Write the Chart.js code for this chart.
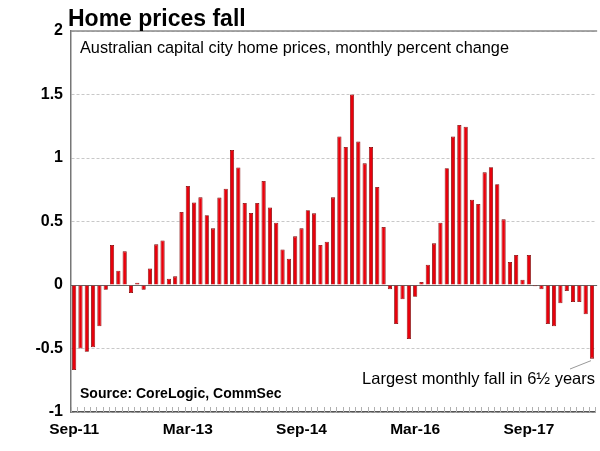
<!DOCTYPE html>
<html>
<head>
<meta charset="utf-8">
<script src="https://cdn.jsdelivr.net/npm/chart.js@4.4.0/dist/chart.umd.min.js"></script>
<style>
  html, body { margin: 0; padding: 0; background: #fff; }
  #wrap { width: 600px; height: 451px; }
</style>
</head>
<body>
<div id="wrap"><canvas id="homeChart"></canvas></div>
<script>
// monthly percent change, Sep-11 onwards
const monthNames = ['Jan', 'Feb', 'Mar', 'Apr', 'May', 'Jun', 'Jul', 'Aug', 'Sep', 'Oct', 'Nov', 'Dec'];
const changes = [
    -0.67, -0.50, -0.525, -0.49, -0.325, -0.037, 0.315, 0.113, 0.265, -0.063,
    0.018, -0.037, 0.13, 0.32, 0.35, 0.05, 0.068, 0.575, 0.78, 0.65,
    0.69, 0.55, 0.446, 0.688, 0.758, 1.063, 0.926, 0.646, 0.567, 0.646,
    0.819, 0.61, 0.49, 0.28, 0.207, 0.383, 0.446, 0.588, 0.564, 0.315,
    0.341, 0.69, 1.17, 1.087, 1.50, 1.129, 0.958, 1.087, 0.772, 0.457,
    -0.034, -0.307, -0.113, -0.425, -0.092, 0.024, 0.16, 0.328, 0.49, 0.92,
    1.17, 1.26, 1.247, 0.672, 0.638, 0.887, 0.927, 0.793, 0.517, 0.181,
    0.236, 0.042, 0.236, -0.01, -0.034, -0.307, -0.325, -0.144, -0.047, -0.134,
    -0.134, -0.231, -0.58
];
const shownLabels = ['Sep-11', 'Mar-13', 'Sep-14', 'Mar-16', 'Sep-17'];

const months = [];
for (let i = 0; i < changes.length; i++) {
    const m = (8 + i) % 12;
    const y = 11 + Math.floor((8 + i) / 12);
    months.push(monthNames[m] + '-' + y);
}

const FONT = "'Liberation Sans', Arial, sans-serif";

// texts, top border, zero line and little month ticks
const decor = {
    id: 'decor',
    beforeDatasetsDraw(chart) {
        const {ctx, chartArea: a, scales: {x, y}} = chart;
        ctx.save();
        ctx.strokeStyle = '#666';
        ctx.lineWidth = 1;
        const y0 = Math.round(y.getPixelForValue(0)) + 0.5;
        ctx.beginPath();
        ctx.moveTo(a.left, y0);
        ctx.lineTo(a.right + 2, y0);
        ctx.stroke();
        ctx.restore();
    },
    afterDraw(chart) {
        const {ctx, chartArea: a, scales: {x, y}} = chart;
        ctx.save();
        // top border
        ctx.strokeStyle = '#8a8a8a';
        ctx.lineWidth = 1.5;
        ctx.beginPath();
        ctx.moveTo(a.left, a.top);
        ctx.lineTo(a.right + 2, a.top);
        ctx.stroke();

        // month ticks along bottom
        ctx.strokeStyle = '#b0b0b0';
        ctx.lineWidth = 1;
        const step = x.getPixelForValue(1) - x.getPixelForValue(0);
        for (let i = 0; i <= changes.length; i++) {
            const px = Math.round(x.getPixelForValue(i) - step / 2) + 0.5;
            ctx.beginPath();
            ctx.moveTo(px, a.bottom);
            ctx.lineTo(px, a.bottom - 5);
            ctx.stroke();
        }

        ctx.fillStyle = '#000';
        ctx.textBaseline = 'alphabetic';
        ctx.textAlign = 'left';
        ctx.font = 'bold 23px ' + FONT;
        ctx.fillText('Home prices fall', 68, 26);

        ctx.font = '16.3px ' + FONT;
        ctx.fillText('Australian capital city home prices, monthly percent change', 80, 53);

        ctx.font = 'bold 14px ' + FONT;
        ctx.fillText('Source: CoreLogic, CommSec', 80, 398);

        ctx.font = '16.5px ' + FONT;
        ctx.textAlign = 'right';
        ctx.fillText('Largest monthly fall in 6\u00BD years', 595, 384);

        // leader line to last bar
        const last = changes.length - 1;
        const lx = x.getPixelForValue(last);
        const ly = y.getPixelForValue(changes[last]);
        ctx.strokeStyle = '#999';
        ctx.lineWidth = 1;
        ctx.beginPath();
        ctx.moveTo(570, 369);
        ctx.lineTo(lx - 1, ly + 2);
        ctx.stroke();
        ctx.restore();
    }
};

const chart = new Chart(document.getElementById('homeChart'), {
    type: 'bar',
    data: {
        labels: months,
        datasets: [{
            data: changes,
            backgroundColor: '#e8000b',
            borderColor: '#7a0000',
            borderWidth: 0.8,
            categoryPercentage: 1,
            barPercentage: 0.66
        }]
    },
    options: {
        responsive: true,
        maintainAspectRatio: false,
        animation: false,
        layout: {padding: {top: 31, right: 2, bottom: 0, left: 0}},
        plugins: {
            legend: {display: false},
            tooltip: {enabled: false}
        },
        scales: {
            x: {
                grid: {display: false, drawTicks: false},
                border: {display: true, color: '#555', width: 1.5},
                ticks: {
                    autoSkip: false,
                    maxRotation: 0,
                    padding: 8,
                    color: '#000',
                    font: {family: FONT, size: 15.5, weight: 'bold'},
                    callback: function (v, i) {
                        const lab = months[i];
                        return shownLabels.includes(lab) ? lab : '';
                    }
                },
                afterFit: s => { s.height = 39; }
            },
            y: {
                min: -1,
                max: 2,
                grid: {color: '#c8c8c8', lineWidth: 1, drawTicks: false},
                border: {display: true, color: '#777', width: 1.5, dash: [3, 2]},
                ticks: {
                    stepSize: 0.5,
                    padding: 8,
                    color: '#000',
                    font: {family: FONT, size: 16, weight: 'bold'},
                    callback: v => String(v)
                },
                afterFit: s => { s.width = 71; }
            }
        }
    },
    plugins: [decor]
});
</script>
</body>
</html>
